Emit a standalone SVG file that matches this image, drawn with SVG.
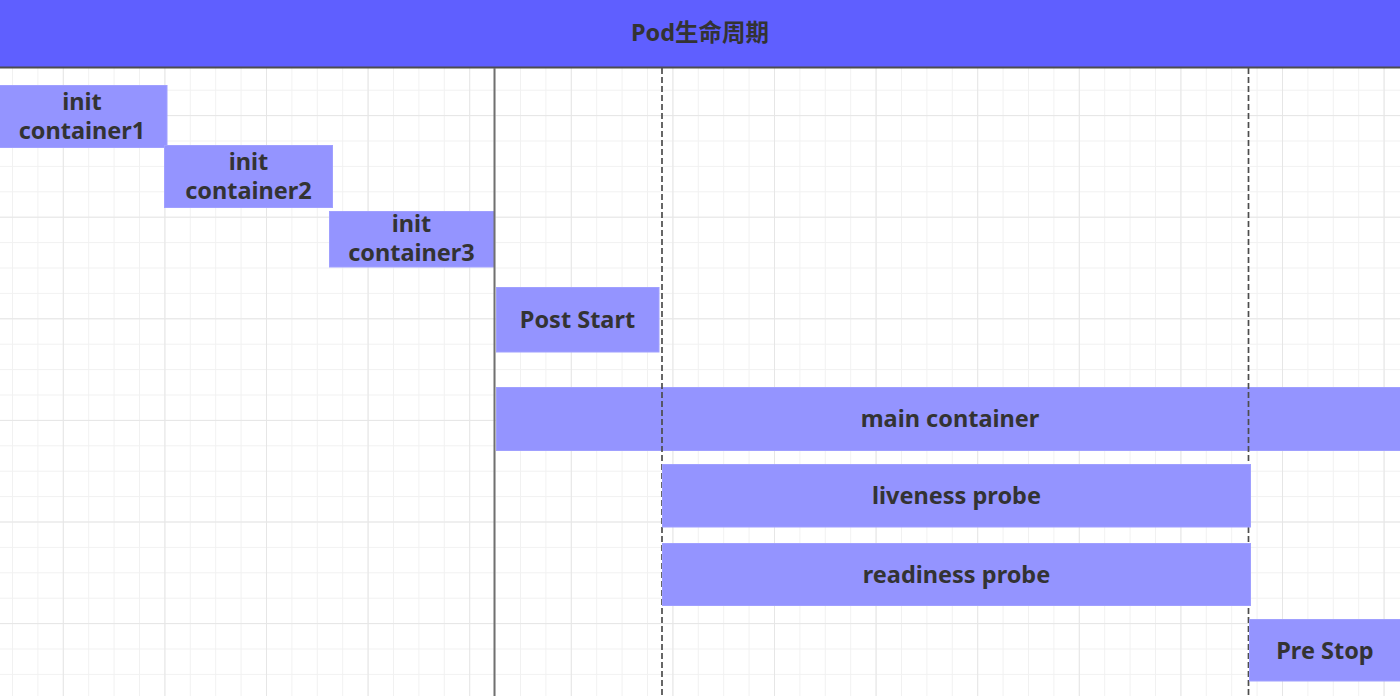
<svg xmlns="http://www.w3.org/2000/svg" width="1400" height="696" viewBox="0 0 1400 696">
<style>
.box{fill:#9494ff;stroke:#a0a0ff;stroke-width:1}
.lbl{font-family:"Noto Sans","Noto Sans CJK SC",sans-serif;font-weight:bold;font-size:23.5px;fill:#333333;text-anchor:middle}
.title{font-family:"Noto Sans","Noto Sans CJK SC",sans-serif;font-weight:bold;font-size:23.5px;fill:#333333;text-anchor:middle}
.dash{stroke:#4d4d4d;stroke-width:1.7;stroke-dasharray:6 3;fill:none}
</style>
<defs>
<pattern id="gMinor" patternUnits="userSpaceOnUse" x="12" y="13.5" width="25.4" height="25.4">
<path d="M0.5 0V25.4M0 0.5H25.4" stroke="#f1f1f1" stroke-width="1" fill="none"/>
</pattern>
<pattern id="gMajor" patternUnits="userSpaceOnUse" x="62.8" y="115.1" width="101.6" height="101.6">
<path d="M0.5 0V101.6M0 0.5H101.6" stroke="#e6e6e6" stroke-width="1" fill="none"/>
</pattern>
</defs>
<rect x="0" y="0" width="1400" height="696" fill="#ffffff"/>
<g id="grid">
<rect x="0" y="68" width="1400" height="628" fill="url(#gMinor)"/>
<rect x="0" y="68" width="1400" height="628" fill="url(#gMajor)"/>
</g>
<g id="header">
<rect x="0" y="0" width="1400" height="67" fill="#5f5fff"/>
<line x1="0" y1="67.5" x2="1400" y2="67.5" stroke="#4d4d4d" stroke-width="2"/>
<text class="title" x="700" y="41">Pod生命周期</text>
</g>
<g id="init1"><rect class="box" x="-1" y="85.5" width="168" height="62"/><text class="lbl" x="82" y="110">init</text><text class="lbl" x="82" y="139">container1</text></g>
<g id="init2"><rect class="box" x="164.5" y="145.5" width="168" height="62"/><text class="lbl" x="248.5" y="170">init</text><text class="lbl" x="248.5" y="199">container2</text></g>
<g id="init3"><rect class="box" x="329.5" y="211.5" width="165" height="55.5"/><text class="lbl" x="411.5" y="232">init</text><text class="lbl" x="411.5" y="261">container3</text></g>
<g id="postStart"><rect class="box" x="496.5" y="287.5" width="162.5" height="64.5"/><text class="lbl" x="577.5" y="328">Post Start</text></g>
<g id="mainContainer"><rect class="box" x="496.5" y="387.5" width="910" height="63"/><text class="lbl" x="950" y="427">main container</text></g>
<g id="connectors">
<line x1="494.5" y1="68" x2="494.5" y2="696" stroke="#707070" stroke-width="2"/>
<line class="dash" x1="662" y1="68" x2="662" y2="696"/>
<line class="dash" x1="1248.5" y1="68" x2="1248.5" y2="696"/>
</g>
<g id="liveness"><rect class="box" x="662.5" y="464.5" width="588" height="62.5"/><text class="lbl" x="956.5" y="504">liveness probe</text></g>
<g id="readiness"><rect class="box" x="662.5" y="543.5" width="588" height="62"/><text class="lbl" x="956.5" y="583">readiness probe</text></g>
<g id="preStop"><rect class="box" x="1249.5" y="619.5" width="160" height="61.5"/><text class="lbl" x="1325" y="659">Pre Stop</text></g>
</svg>
